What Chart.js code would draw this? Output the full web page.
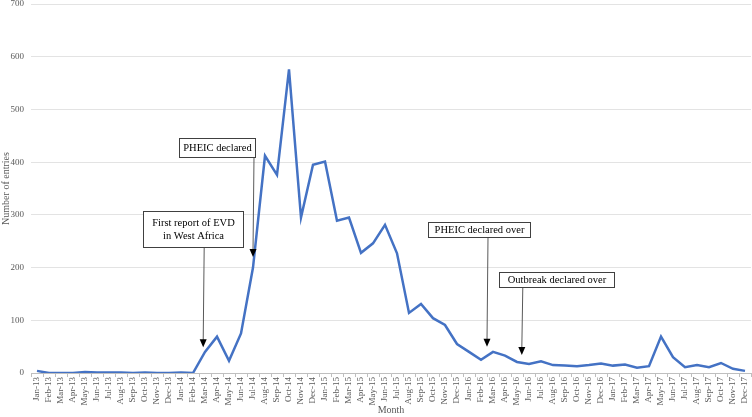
<!DOCTYPE html>
<html>
<head>
    <title>Ebola entries by month</title>
    <script src="https://cdn.jsdelivr.net/npm/chart.js"></script>
    <style>
        body { margin: 0; background: #fff; }
        #wrap { width: 752px; height: 417px; }
    </style>
</head>
<body>
    <div id="wrap"><canvas id="entriesChart" width="752" height="417"></canvas></div>
    <script>
        const years = ['13', '14', '15', '16', '17'];
        const monthNames = ['Jan', 'Feb', 'Mar', 'Apr', 'May', 'Jun', 'Jul', 'Aug', 'Sep', 'Oct', 'Nov', 'Dec'];
        const months = [];
        years.forEach(y => monthNames.forEach(m => months.push(m + '-' + y)));

        // entries per month
        const entries2013 = [4, 0, 0, 0, 2, 1, 1, 1, 0, 1, 0, 0];
        const entries2014 = [1, 0, 40, 69, 23, 75, 200, 412, 376, 576, 295, 395];
        const entries2015 = [401, 289, 295, 228, 246, 281, 227, 114, 131, 104, 91, 55];
        const entries2016 = [40, 25, 40, 33, 21, 17, 22, 15, 14, 13, 15, 18];
        const entries2017 = [14, 16, 10, 13, 69, 30, 11, 15, 11, 19, 8, 4];
        const entries = [].concat(entries2013, entries2014, entries2015, entries2016, entries2017);

        const yTicks = [0, 100, 200, 300, 400, 500, 600, 700];

        // callouts: text lines, box (px), month position the arrow points at, value at arrow tip
        const callouts = [
            { lines: ['First report of EVD', 'in West Africa'], box: [143, 211, 100, 36], at: 13.85, tip: 49 },
            { lines: ['PHEIC declared'], box: [179, 138, 76, 19], at: 18, tip: 220 },
            { lines: ['PHEIC declared over'], box: [428, 222, 102, 15], at: 37.5, tip: 50 },
            { lines: ['Outbreak declared over'], box: [499, 272, 115, 15], at: 40.4, tip: 34 }
        ];

        const calloutPlugin = {
            id: 'callouts',
            afterDatasetsDraw(chart) {
                const ctx = chart.ctx;
                const xs = chart.scales.x, ys = chart.scales.y;
                ctx.save();
                callouts.forEach(c => {
                    const [bx, by, bw, bh] = c.box;
                    const tx = xs.getPixelForValue(c.at);
                    const ty = ys.getPixelForValue(c.tip);
                    // arrow line
                    ctx.strokeStyle = '#595959';
                    ctx.lineWidth = 1;
                    ctx.beginPath();
                    ctx.moveTo(tx + 1, by + bh);
                    ctx.lineTo(tx, ty - 6);
                    ctx.stroke();
                    // head
                    ctx.fillStyle = '#000';
                    ctx.beginPath();
                    ctx.moveTo(tx, ty);
                    ctx.lineTo(tx - 3.5, ty - 8);
                    ctx.lineTo(tx + 3.5, ty - 8);
                    ctx.closePath();
                    ctx.fill();
                    // box
                    ctx.fillStyle = '#fff';
                    ctx.fillRect(bx, by, bw, bh);
                    ctx.strokeStyle = '#404040';
                    ctx.strokeRect(bx + 0.5, by + 0.5, bw, bh);
                    ctx.fillStyle = '#000';
                    ctx.font = '10.5px "Liberation Serif"';
                    ctx.textAlign = 'center';
                    ctx.textBaseline = 'middle';
                    const lh = 13;
                    const y0 = by + bh / 2 - (c.lines.length - 1) * lh / 2 + 0.5;
                    c.lines.forEach((t, i) => ctx.fillText(t, bx + bw / 2 + 0.5, y0 + i * lh));
                });
                ctx.restore();
            }
        };

        new Chart(document.getElementById('entriesChart').getContext('2d'), {
            type: 'line',
            data: {
                labels: months,
                datasets: [{
                    label: 'Entries',
                    data: entries,
                    borderColor: '#4472C4',
                    borderWidth: 2.5,
                    pointRadius: 0,
                    tension: 0,
                    fill: false
                }]
            },
            options: {
                responsive: false,
                animation: false,
                devicePixelRatio: 1,
                layout: { padding: { top: 4, right: 1, left: 0, bottom: 0 } },
                plugins: { legend: { display: false }, tooltip: { enabled: false } },
                scales: {
                    x: {
                        offset: true,
                        grid: { drawOnChartArea: false, drawTicks: true, tickLength: 4, offset: true, color: '#bfbfbf' },
                        border: { color: '#bfbfbf' },
                        ticks: {
                            autoSkip: false, maxRotation: 90, minRotation: 90, padding: 0,
                            color: '#595959', font: { family: 'Liberation Serif', size: 9 }
                        },
                        title: { display: true, text: 'Month', color: '#595959', padding: { top: 0, bottom: 1 },
                            font: { family: 'Liberation Serif', size: 10 } },
                        afterFit(scale) {
                            scale.height = 44;
                            scale.paddingLeft = 0;
                            scale.paddingRight = 0;
                        }
                    },
                    y: {
                        min: 0, max: 700,
                        afterBuildTicks(scale) { scale.ticks = yTicks.map(v => ({ value: v })); },
                        grid: { color: '#e3e3e3', drawTicks: false },
                        border: { display: false },
                        ticks: { padding: 7, color: '#595959', font: { family: 'Liberation Serif', size: 9 } },
                        title: { display: true, text: 'Number of entries', color: '#595959', padding: 0,
                            font: { family: 'Liberation Serif', size: 10 } },
                        afterFit(scale) {
                            scale.width = 31;
                            scale.paddingTop = 0;
                            scale.paddingBottom = 0;
                        }
                    }
                }
            },
            plugins: [calloutPlugin]
        });
    </script>
</body>
</html>
